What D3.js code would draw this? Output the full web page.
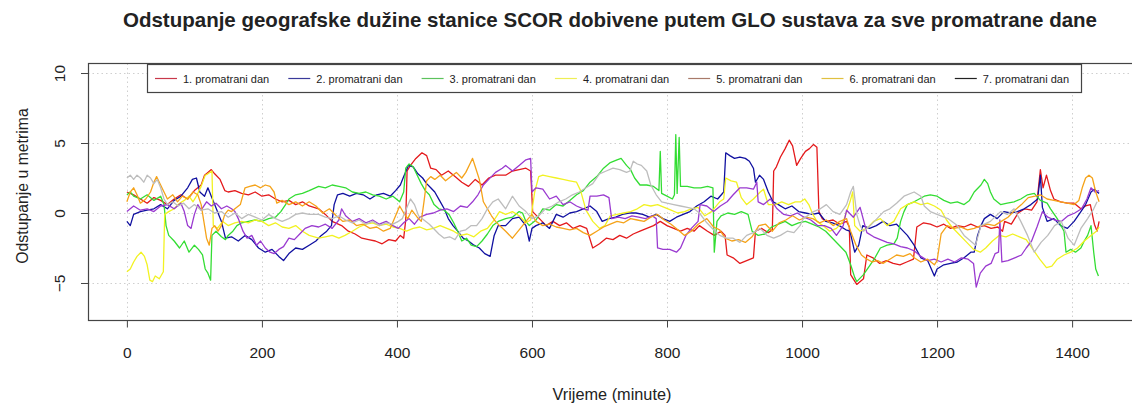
<!DOCTYPE html>
<html>
<head>
<meta charset="utf-8">
<script src="https://cdn.jsdelivr.net/npm/d3@7"></script>
<style>
  body { margin: 0; background: #fff; }
  svg text { font-family: "Liberation Sans", Arial, sans-serif; fill: #222; }
</style>
</head>
<body>
<svg id="chart" width="1132" height="403"></svg>
<script>
// --- data: [minute, metres] ---
var dayLabels = ['1. promatrani dan', '2. promatrani dan', '3. promatrani dan', '4. promatrani dan',
  '5. promatrani dan', '6. promatrani dan', '7. promatrani dan'];
var lineColors = ['#e41a1c', '#1010a0', '#33dd33', '#f2f222', '#9a3ad0', '#f5a31a', '#bdbdbd'];
var legendColors = ['#c8384a', '#3a3a9a', '#5cc25c', '#eeee55', '#a87a6a', '#e0c040', '#222222'];
var xTicks = [0, 200, 400, 600, 800, 1000, 1200, 1400];
var yTicks = [-5, 0, 5, 10];
var yLimits = [-7, 10];

var day1 = [[0,1.5],[10,1.3],[20,1.0],[30,0.7],[40,1.1],[50,0.9],[60,0.6],[70,1.0],[80,1.3],[90,1.0],[100,1.6],[110,2.0],[115,2.7],[120,2.9],[125,3.1],[130,2.8],[138,2.4],[145,1.6],[150,1.5],[160,1.6],[170,1.4],[180,1.3],[190,1.5],[200,1.2],[210,1.3],[220,1.0],[230,0.8],[240,0.9],[250,0.6],[260,0.8],[270,0.5],[284,0.3],[294,-0.1],[304,-0.6],[318,-0.9],[328,-1.3],[338,-1.5],[348,-1.8],[358,-1.9],[368,-2.0],[378,-2.2],[388,-1.9],[398,-2.0],[405,-1.6],[410,-1.8],[413,-0.5],[415,3.0],[420,3.4],[428,3.9],[437,4.3],[444,4.1],[450,3.2],[458,3.1],[466,2.7],[476,3.0],[486,2.6],[496,2.2],[506,1.9],[516,2.4],[526,2.0],[536,2.5],[546,2.7],[561,2.7],[571,3.0],[581,3.1],[591,3.2],[598,3.0],[601,0.1],[611,-0.4],[621,-0.9],[631,-0.6],[641,-0.9],[651,-0.7],[661,-1.1],[671,-0.9],[681,-1.1],[690,-2.5],[700,-2.2],[710,-1.8],[720,-1.9],[730,-1.6],[740,-1.8],[750,-1.5],[760,-1.3],[770,-1.1],[780,-0.9],[790,-0.6],[800,-0.9],[810,-1.1],[820,-1.3],[830,-1.1],[840,-1.3],[848,-0.9],[860,-1.3],[870,-1.6],[880,-1.3],[886,-1.6],[889,-3.0],[898,-3.2],[908,-3.6],[918,-3.4],[928,-3.2],[931,-1.3],[940,-1.1],[950,-1.4],[956,-1.2],[958,3.0],[962,3.3],[968,4.0],[975,4.6],[981,5.2],[986,4.8],[992,3.4],[998,3.9],[1005,4.4],[1011,4.6],[1017,4.9],[1022,4.7],[1023,3.2],[1025,0.1],[1030,-0.4],[1036,-0.6],[1046,-0.5],[1056,-0.8],[1066,-0.6],[1070,-1.0],[1072,-4.4],[1081,-5.1],[1091,-4.7],[1096,-3.0],[1105,-3.2],[1115,-3.6],[1125,-3.4],[1135,-3.6],[1145,-3.7],[1155,-3.5],[1165,-3.3],[1170,-1.0],[1180,-0.7],[1190,-0.8],[1200,-1.0],[1210,-0.8],[1220,-1.1],[1230,-0.9],[1240,-1.0],[1250,-0.8],[1260,-1.0],[1270,-0.9],[1280,-1.1],[1290,-1.0],[1297,-1.3],[1300,-0.6],[1310,-0.8],[1320,0.0],[1330,0.3],[1340,0.2],[1348,0.8],[1353,3.1],[1357,1.8],[1362,2.7],[1368,1.6],[1373,1.0],[1383,0.8],[1393,0.7],[1403,0.7],[1413,0.3],[1420,0.5],[1427,0.6],[1433,-0.8],[1437,-1.3],[1440,-0.6]];

var day2 = [[0,-0.6],[5,-0.9],[10,-0.1],[20,0.1],[30,0.2],[40,0.3],[50,0.6],[60,0.3],[70,0.9],[80,1.2],[90,1.8],[97,2.4],[103,2.5],[108,1.5],[115,1.2],[120,1.8],[125,1.2],[130,0.6],[140,-0.6],[146,-1.8],[155,-1.7],[165,-2.0],[175,-1.6],[185,-1.9],[195,-2.5],[205,-2.8],[215,-2.6],[225,-3.1],[232,-3.4],[240,-2.9],[250,-2.5],[260,-2.6],[270,-2.3],[280,-2.0],[288,-1.6],[296,-1.3],[303,-0.9],[307,0.6],[312,1.3],[320,1.4],[330,1.2],[340,1.4],[350,1.3],[360,1.0],[370,1.3],[380,1.4],[390,1.2],[398,1.6],[405,2.0],[410,2.6],[417,3.4],[424,3.3],[431,2.8],[438,2.5],[444,2.1],[450,1.8],[456,1.5],[463,0.9],[470,0.3],[476,-0.4],[483,-0.9],[490,-1.3],[498,-1.8],[506,-2.0],[514,-2.3],[522,-2.5],[530,-2.9],[538,-3.1],[544,-1.6],[550,-0.9],[561,-0.9],[571,-0.4],[581,-0.3],[591,-0.9],[596,-2.0],[600,-1.1],[606,-0.9],[616,-0.7],[626,-1.1],[636,-0.1],[646,-0.3],[656,0.0],[666,0.1],[676,0.3],[686,0.5],[696,0.1],[704,-0.6],[714,-0.4],[724,-0.3],[734,-0.1],[744,0.0],[754,0.0],[764,-0.1],[774,-0.3],[784,-0.1],[794,-0.4],[804,-0.6],[814,-0.3],[824,-0.1],[834,0.1],[844,0.5],[855,0.8],[865,1.2],[875,1.0],[884,1.5],[887,4.3],[893,4.1],[900,3.9],[908,4.0],[916,3.9],[922,3.7],[928,3.2],[931,2.2],[937,2.7],[943,2.4],[950,1.5],[957,0.8],[965,0.6],[975,0.3],[985,0.5],[995,0.1],[1005,0.0],[1015,-0.1],[1025,0.0],[1035,-0.6],[1045,-0.7],[1055,-0.9],[1065,-1.2],[1071,-1.3],[1078,-2.8],[1084,-2.3],[1090,-0.9],[1100,-1.1],[1110,-0.9],[1120,-0.6],[1130,-0.9],[1140,-0.8],[1146,-1.1],[1156,-1.6],[1166,-2.3],[1176,-3.2],[1186,-3.4],[1196,-4.5],[1200,-4.0],[1210,-3.7],[1220,-3.6],[1230,-3.5],[1240,-3.2],[1250,-2.8],[1255,-2.8],[1260,-1.6],[1265,-0.9],[1270,-0.4],[1279,-0.1],[1289,-0.4],[1299,0.1],[1309,0.0],[1319,0.1],[1329,0.3],[1339,0.6],[1349,1.0],[1353,2.7],[1356,0.4],[1363,-0.6],[1373,-0.4],[1383,-0.9],[1393,-1.1],[1403,-0.6],[1413,0.1],[1420,0.6],[1428,1.5],[1433,1.7],[1437,1.5],[1440,1.4]];

var day3 = [[0,1.3],[5,1.5],[10,1.2],[20,1.0],[30,1.3],[40,0.9],[50,1.2],[55,0.6],[58,-0.9],[62,-1.6],[70,-2.0],[78,-2.5],[85,-2.0],[92,-2.8],[100,-2.3],[106,-2.6],[112,-3.0],[116,-4.0],[120,-4.3],[124,-4.8],[126,-1.6],[132,-1.3],[140,-1.7],[146,-1.9],[150,-1.6],[157,-1.3],[163,-0.9],[170,-0.7],[180,-0.6],[190,-0.5],[200,-0.6],[210,-0.4],[220,-0.3],[228,0.1],[235,0.6],[240,1.0],[250,1.3],[260,1.4],[270,1.6],[284,1.9],[294,1.8],[304,2.0],[314,1.9],[324,1.8],[334,1.5],[344,1.4],[354,1.5],[364,1.3],[374,1.2],[384,1.0],[394,1.2],[404,0.8],[410,1.5],[413,3.2],[418,3.5],[424,3.3],[430,2.7],[436,2.1],[442,1.6],[448,1.3],[455,0.6],[462,0.3],[470,0.2],[477,-0.1],[484,-0.7],[490,-1.3],[496,-2.0],[503,-1.8],[510,-2.3],[518,-2.4],[526,-2.0],[534,-1.5],[542,-0.9],[550,-0.6],[561,-0.4],[571,-0.3],[581,0.1],[586,0.0],[591,-0.6],[596,-0.9],[606,-0.5],[616,0.3],[626,0.2],[636,0.6],[646,0.5],[656,0.9],[666,1.3],[676,1.6],[686,2.2],[696,2.6],[706,3.2],[716,3.6],[726,3.8],[732,3.9],[740,3.4],[746,3.1],[752,2.5],[760,2.0],[770,2.0],[780,1.9],[788,1.6],[790,4.4],[792,1.4],[800,1.2],[808,1.0],[811,1.3],[813,5.6],[815,1.4],[818,5.4],[820,1.9],[830,1.9],[840,1.8],[850,1.8],[860,1.9],[868,1.8],[870,-2.8],[874,-0.6],[880,-0.2],[890,0.0],[900,-0.1],[910,0.1],[920,-0.1],[926,-1.3],[935,-1.6],[945,-1.5],[955,-1.0],[965,-0.8],[975,-0.6],[985,-0.9],[995,-0.7],[1005,-0.6],[1015,-0.8],[1025,-1.0],[1035,-1.3],[1045,-1.8],[1055,-2.3],[1065,-2.8],[1072,-3.7],[1078,-4.6],[1081,-4.9],[1091,-4.4],[1101,-3.7],[1108,-3.2],[1116,-2.5],[1126,-2.3],[1136,-2.2],[1141,-1.8],[1146,-0.6],[1151,0.1],[1156,0.6],[1166,0.8],[1181,1.2],[1190,1.3],[1200,1.2],[1210,0.9],[1220,0.7],[1230,0.8],[1240,0.6],[1248,0.9],[1255,1.5],[1265,2.0],[1270,2.4],[1275,2.1],[1279,1.5],[1284,1.0],[1294,0.6],[1304,0.7],[1314,0.8],[1324,1.0],[1334,1.3],[1344,1.4],[1353,0.9],[1363,0.7],[1368,0.3],[1378,-0.4],[1388,-1.3],[1391,-2.8],[1398,-2.6],[1405,-2.8],[1413,-2.5],[1418,-2.0],[1423,-1.6],[1428,-0.9],[1432,-2.8],[1435,-4.0],[1439,-4.5]];

var day4 = [[0,-4.2],[5,-4.0],[10,-3.5],[15,-3.1],[21,-2.8],[26,-3.1],[30,-3.7],[34,-4.8],[38,-4.9],[42,-4.5],[48,-4.7],[54,-4.2],[56,-0.1],[62,0.1],[70,0.3],[78,0.7],[85,0.9],[92,1.2],[98,0.8],[104,1.3],[110,1.9],[116,2.7],[120,2.8],[126,3.0],[128,-0.9],[134,-1.1],[142,-0.6],[150,-0.9],[160,-0.7],[170,-0.6],[180,-0.7],[190,-0.5],[200,-0.6],[210,-0.9],[220,-0.7],[230,-1.0],[240,-1.1],[250,-0.9],[260,-1.3],[270,-1.6],[284,-1.8],[294,-1.7],[304,-1.6],[314,-1.8],[323,-1.6],[334,-1.3],[344,-1.0],[354,-0.8],[364,-0.7],[374,-0.9],[384,-0.8],[394,-1.0],[404,-1.1],[414,-1.3],[424,-1.1],[434,-1.0],[444,-1.2],[454,-1.1],[464,-0.9],[474,-1.1],[484,-1.3],[494,-1.6],[504,-1.5],[514,-1.7],[524,-1.3],[534,-1.1],[544,-0.5],[552,0.1],[561,-0.1],[571,0.1],[581,-0.2],[591,-0.7],[598,-0.5],[604,1.5],[610,2.6],[616,2.7],[626,2.6],[636,2.5],[646,2.4],[656,2.3],[666,2.2],[672,1.6],[680,0.2],[690,-0.6],[700,-1.1],[708,-0.9],[716,-0.2],[726,-0.1],[736,0.0],[746,0.1],[756,0.3],[766,0.6],[776,0.5],[786,0.6],[796,0.4],[806,0.2],[816,0.0],[826,0.1],[836,0.3],[846,0.4],[856,-0.2],[866,0.1],[878,0.8],[884,1.0],[887,2.5],[895,2.3],[903,2.2],[910,1.1],[918,0.6],[928,1.0],[938,1.5],[943,1.7],[950,0.6],[960,0.6],[970,0.8],[980,0.6],[990,0.8],[998,0.8],[1004,1.0],[1010,0.6],[1016,-0.1],[1022,-0.6],[1031,-0.9],[1041,-1.3],[1051,-1.1],[1061,-0.6],[1066,0.1],[1071,0.8],[1075,1.5],[1078,-0.9],[1086,-1.3],[1096,-1.1],[1106,-0.6],[1116,-0.4],[1126,-0.9],[1136,-0.6],[1146,0.3],[1156,0.6],[1166,0.8],[1176,0.6],[1186,0.7],[1196,0.5],[1206,0.2],[1214,-0.5],[1222,-1.0],[1232,-1.5],[1244,-2.1],[1254,-2.6],[1264,-2.8],[1272,-2.5],[1282,-2.0],[1292,-1.6],[1302,-1.7],[1312,-1.5],[1322,-1.7],[1332,-1.9],[1342,-2.6],[1352,-3.3],[1362,-3.9],[1370,-3.8],[1378,-3.3],[1388,-3.0],[1398,-2.8],[1408,-2.5],[1418,-2.0],[1428,-1.6],[1436,-1.3],[1440,-1.0]];

var day5 = [[0,0.1],[5,0.3],[10,0.5],[20,0.2],[30,0.3],[40,0.1],[50,0.5],[60,0.6],[70,0.3],[80,0.7],[85,0.1],[90,-0.9],[95,-1.1],[100,-0.1],[105,0.6],[110,0.2],[118,0.8],[125,0.5],[132,0.7],[140,0.3],[148,0.5],[155,0.3],[160,0.1],[165,-0.4],[172,-1.3],[178,-1.8],[185,-1.6],[192,-2.3],[198,-2.0],[205,-2.5],[212,-2.8],[218,-2.9],[225,-2.6],[232,-2.4],[240,-1.8],[248,-1.9],[256,-1.5],[264,-1.1],[274,-0.9],[284,-1.0],[294,-0.8],[304,-1.1],[314,-0.5],[318,0.3],[324,-0.2],[334,-0.6],[344,-0.4],[354,-0.7],[364,-0.5],[374,-0.8],[384,-0.6],[394,-0.9],[402,-1.1],[410,-0.7],[418,-0.4],[426,-0.8],[434,-0.3],[444,-0.1],[454,0.0],[464,0.2],[474,0.3],[484,0.1],[494,0.5],[504,0.4],[512,0.8],[520,1.3],[528,2.0],[536,2.4],[546,2.9],[556,3.2],[561,3.4],[571,3.0],[581,3.4],[591,3.8],[598,3.9],[600,1.5],[606,1.8],[616,1.7],[626,1.0],[636,1.2],[646,0.6],[656,0.8],[666,0.5],[676,0.3],[683,0.2],[686,1.2],[696,1.2],[706,1.3],[714,1.1],[718,-0.4],[728,-0.3],[738,-0.4],[748,-0.2],[758,-0.3],[768,-0.4],[778,-0.2],[784,-0.4],[786,-2.5],[794,-2.6],[804,-2.6],[814,-2.8],[820,-2.5],[828,-1.6],[836,-1.1],[846,-0.6],[849,0.6],[859,0.5],[869,0.1],[879,0.5],[889,0.8],[898,1.3],[908,1.8],[918,1.8],[928,1.7],[933,2.2],[935,0.8],[943,0.6],[953,1.0],[963,0.3],[973,-0.1],[983,-0.2],[993,0.0],[1003,-0.3],[1013,-0.5],[1023,-0.9],[1033,-0.9],[1043,-1.1],[1051,-1.6],[1061,-0.9],[1066,0.2],[1076,-0.3],[1086,0.4],[1096,-1.4],[1106,-1.7],[1116,-1.9],[1126,-2.1],[1136,-2.2],[1146,-2.4],[1156,-2.5],[1166,-2.7],[1176,-3.1],[1186,-3.4],[1196,-3.3],[1206,-3.5],[1216,-3.3],[1226,-3.5],[1236,-3.2],[1246,-3.3],[1254,-3.6],[1258,-5.3],[1264,-4.3],[1272,-3.8],[1280,-3.6],[1286,-2.9],[1291,-2.8],[1293,-0.5],[1296,-3.5],[1305,-3.4],[1315,-3.2],[1325,-3.0],[1332,-2.5],[1340,-2.0],[1348,-1.0],[1356,0.1],[1364,-0.3],[1374,-0.5],[1384,-0.6],[1394,-0.2],[1404,0.0],[1414,0.3],[1422,1.0],[1428,1.8],[1434,1.5],[1440,1.6]];

var day6 = [[0,0.8],[5,1.5],[10,1.8],[15,1.3],[20,0.7],[28,1.0],[35,1.5],[40,2.2],[44,2.6],[48,2.2],[55,1.5],[60,1.0],[68,1.3],[75,0.8],[82,1.2],[90,1.0],[98,1.5],[105,1.3],[110,0.6],[114,-0.6],[118,-1.8],[122,-2.3],[126,-1.1],[130,-0.9],[135,-1.3],[140,-0.9],[145,-0.1],[150,0.2],[155,0.1],[160,0.3],[168,0.6],[175,1.8],[182,1.9],[190,2.0],[198,1.8],[205,2.0],[212,1.9],[218,1.5],[222,0.7],[230,0.9],[240,0.6],[250,0.8],[260,0.5],[270,0.8],[280,0.5],[290,0.0],[300,0.3],[310,-0.2],[320,-0.6],[330,-0.5],[340,-0.9],[350,-0.8],[360,-1.1],[370,-1.0],[380,-1.3],[390,-1.1],[398,-0.2],[404,0.5],[410,0.0],[416,-0.4],[422,0.2],[430,-0.3],[436,-0.6],[440,0.8],[444,2.3],[450,2.6],[456,2.4],[464,2.7],[472,2.3],[480,2.6],[488,2.9],[496,2.5],[502,2.9],[508,3.5],[512,3.9],[516,3.3],[522,2.4],[528,0.8],[534,0.3],[540,-0.2],[546,-0.6],[552,-0.9],[561,-1.3],[571,-1.8],[581,-1.2],[591,-0.6],[600,-0.1],[606,-0.6],[616,-0.9],[626,-0.8],[636,-1.0],[646,-1.1],[656,-1.2],[666,-1.1],[676,-1.4],[686,-1.6],[696,-1.3],[706,-1.0],[716,-0.8],[726,-0.6],[736,-0.7],[746,-0.4],[756,-0.5],[766,-0.6],[776,-0.3],[786,-0.1],[796,-0.5],[806,-0.8],[816,-1.2],[826,-1.6],[836,-1.3],[846,-0.8],[859,-0.4],[869,-1.0],[878,-1.2],[886,-1.8],[896,-2.0],[906,-1.9],[916,-2.1],[926,-1.7],[936,-0.9],[946,-0.8],[956,-1.3],[966,-0.7],[976,-0.5],[986,-0.2],[996,-0.5],[1006,-0.3],[1016,-0.4],[1026,-0.7],[1036,-0.5],[1046,-0.9],[1056,-0.6],[1066,-0.4],[1072,-1.3],[1080,-2.3],[1088,-3.0],[1096,-3.3],[1104,-3.5],[1112,-3.4],[1120,-3.6],[1130,-3.3],[1140,-3.0],[1150,-3.1],[1160,-2.9],[1166,-3.2],[1176,-3.5],[1186,-3.3],[1196,-3.7],[1200,-3.4],[1206,-1.5],[1215,-0.9],[1225,-1.1],[1235,-1.0],[1245,-1.2],[1255,-1.1],[1265,-0.9],[1275,-0.8],[1285,-0.9],[1295,-0.6],[1305,-0.3],[1315,0.2],[1325,0.6],[1335,1.1],[1345,1.2],[1353,1.3],[1363,1.0],[1373,0.9],[1383,0.8],[1393,0.7],[1403,0.6],[1410,0.9],[1415,1.8],[1420,2.5],[1425,2.7],[1430,2.5],[1435,1.5],[1440,0.8]];

var day7 = [[0,2.5],[5,2.7],[10,2.4],[15,2.7],[20,2.5],[25,2.2],[30,2.7],[35,2.5],[40,2.1],[45,2.4],[50,1.8],[55,1.0],[60,0.6],[68,0.8],[76,0.5],[84,0.7],[92,0.3],[100,0.6],[110,0.2],[120,0.3],[130,0.0],[140,0.1],[150,-0.3],[160,0.0],[170,-0.4],[180,-0.1],[190,-0.3],[200,-0.5],[210,-0.1],[220,-0.4],[230,-0.6],[240,-0.4],[250,-0.1],[260,0.0],[270,-0.1],[284,-0.1],[294,-0.3],[304,-0.4],[314,-0.2],[324,-0.5],[334,-0.7],[344,-0.5],[354,-0.8],[364,-0.6],[374,-0.9],[384,-0.7],[394,-0.8],[402,-0.6],[408,-0.4],[414,0.3],[420,1.0],[426,0.6],[432,-0.2],[440,-0.5],[448,-0.8],[456,-1.2],[462,-1.5],[470,-1.8],[478,-1.7],[486,-1.9],[494,-1.3],[502,-1.2],[510,-0.9],[518,-0.9],[526,-0.4],[534,0.3],[542,0.8],[550,1.0],[561,0.3],[571,1.2],[581,0.5],[591,0.1],[600,-0.4],[610,-0.2],[620,0.3],[630,0.5],[640,0.8],[650,1.0],[660,1.3],[670,1.5],[680,1.8],[690,2.1],[700,2.8],[710,3.0],[720,3.2],[730,3.1],[740,2.9],[745,3.0],[750,3.7],[756,3.5],[762,3.4],[770,3.0],[776,2.0],[784,1.3],[792,0.8],[800,0.7],[810,0.6],[820,0.5],[830,0.4],[840,0.3],[848,0.0],[859,-0.7],[869,-1.2],[878,-1.6],[888,-1.8],[898,-1.8],[908,-2.1],[918,-1.6],[928,-1.4],[938,-1.1],[948,-1.6],[958,-1.8],[968,-1.6],[978,-1.3],[988,-1.4],[997,-0.9],[1002,-0.4],[1017,0.1],[1027,0.3],[1036,0.6],[1046,0.1],[1056,-0.1],[1066,0.6],[1072,1.5],[1076,1.9],[1081,-0.1],[1086,-0.9],[1091,-1.3],[1101,-0.9],[1111,-0.4],[1121,0.1],[1130,0.3],[1140,0.7],[1151,1.2],[1166,1.5],[1176,1.2],[1181,0.5],[1190,0.1],[1200,-0.1],[1216,-0.4],[1230,-0.9],[1240,-1.6],[1257,-2.3],[1265,-0.9],[1279,-0.6],[1294,0.1],[1304,-0.1],[1314,0.3],[1324,-0.6],[1334,-1.6],[1344,-2.8],[1354,-2.1],[1364,-1.6],[1374,-0.9],[1384,-0.6],[1394,-1.8],[1403,-2.3],[1413,-1.1],[1423,-0.4],[1432,0.3],[1437,0.8]];

var series = [day1, day2, day3, day4, day5, day6, day7];

// --- layout ---
var svg = d3.select('#chart');
svg.append('rect').attr('width', 1132).attr('height', 403).attr('fill', '#fff');

// R style 4% padding around the data range
function pad(ext) {
  var d = (ext[1] - ext[0]) * 0.04;
  return [ext[0] - d, ext[1] + d];
}

var allT = d3.merge(series).map(function(d) { return d[0]; });
var x = d3.scaleLinear().domain(pad(d3.extent(allT))).range([88, 1138]);
var y = d3.scaleLinear().domain(pad(yLimits)).range([320.5, 63.5]);

var plotL = x.range()[0], plotR = x.range()[1];
var plotT = y.range()[1], plotB = y.range()[0];

svg.append('clipPath').attr('id', 'clip')
  .append('rect')
  .attr('x', plotL).attr('y', plotT)
  .attr('width', plotR - plotL).attr('height', plotB - plotT);

// grid
var grid = svg.append('g').attr('stroke', '#cfcfcf').attr('stroke-dasharray', '1.5,3').attr('stroke-width', 1);
grid.selectAll('.gx').data(xTicks).enter().append('line')
  .attr('x1', function(d) { return Math.round(x(d)) + 0.5; })
  .attr('x2', function(d) { return Math.round(x(d)) + 0.5; })
  .attr('y1', plotT).attr('y2', plotB);
grid.selectAll('.gy').data(yTicks).enter().append('line')
  .attr('y1', function(d) { return Math.round(y(d)) + 0.5; })
  .attr('y2', function(d) { return Math.round(y(d)) + 0.5; })
  .attr('x1', plotL).attr('x2', plotR);

// series
var line = d3.line()
  .x(function(d) { return x(d[0]); })
  .y(function(d) { return y(d[1]); });

svg.append('g').attr('clip-path', 'url(#clip)')
  .selectAll('path')
  .data(series)
  .enter()
  .append('path')
  .attr('fill', 'none')
  .attr('stroke', function(d, i) { return lineColors[i]; })
  .attr('stroke-width', 1.3)
  .attr('stroke-linejoin', 'round')
  .attr('d', line);

// box
svg.append('rect')
  .attr('x', plotL + 0.5).attr('y', plotT)
  .attr('width', plotR - plotL).attr('height', plotB - plotT)
  .attr('fill', 'none').attr('stroke', '#444').attr('stroke-width', 1.2);

// x axis
var xAxis = svg.append('g')
  .attr('transform', 'translate(0,' + plotB + ')')
  .call(d3.axisBottom(x).tickValues(xTicks).tickFormat(d3.format('d'))
    .tickSize(7).tickSizeOuter(0).tickPadding(19));
xAxis.select('.domain').remove();
xAxis.selectAll('line').attr('stroke', '#444');
xAxis.selectAll('text').attr('font-size', '15.5px').attr('font-family', '"Liberation Sans", Arial, sans-serif').attr('fill', '#222');

// y axis
var yAxis = svg.append('g')
  .attr('transform', 'translate(' + plotL + ',0)')
  .call(d3.axisLeft(y).tickValues(yTicks).tickSize(7).tickSizeOuter(0).tickPadding(0));
yAxis.select('.domain').remove();
yAxis.selectAll('line').attr('stroke', '#444');
yAxis.selectAll('text')
  .attr('font-size', '15.5px')
  .attr('font-family', '"Liberation Sans", Arial, sans-serif')
  .attr('fill', '#222')
  .attr('text-anchor', 'middle')
  .attr('dy', null)
  .attr('x', null)
  .attr('transform', 'translate(-23,0) rotate(-90)');

// titles
svg.append('text')
  .attr('x', 610).attr('y', 27)
  .attr('text-anchor', 'middle')
  .attr('font-weight', 'bold')
  .attr('font-size', '20.5px')
  .text('Odstupanje geografske dužine stanice SCOR dobivene putem GLO sustava za sve promatrane dane');

svg.append('text')
  .attr('x', 612).attr('y', 400)
  .attr('text-anchor', 'middle')
  .attr('font-size', '16.3px')
  .text('Vrijeme (minute)');

svg.append('text')
  .attr('transform', 'translate(28,186) rotate(-90)')
  .attr('text-anchor', 'middle')
  .attr('font-size', '15.8px')
  .text('Odstupanje u metrima');

// legend
var legend = svg.append('g');
legend.append('rect')
  .attr('x', 147.5).attr('y', 64.5).attr('width', 934).attr('height', 28)
  .attr('fill', '#fff').attr('stroke', '#444').attr('stroke-width', 1.2);

var item = legend.selectAll('.item')
  .data(dayLabels)
  .enter()
  .append('g')
  .attr('transform', function(d, i) { return 'translate(' + (155 + i * 133.3) + ',78.5)'; });

item.append('line')
  .attr('x1', 0).attr('x2', 22)
  .attr('stroke', function(d, i) { return legendColors[i]; })
  .attr('stroke-width', 1.2);

item.append('text')
  .attr('x', 28).attr('y', 4)
  .attr('font-size', '11px')
  .text(function(d) { return d; });
</script>
</body>
</html>
